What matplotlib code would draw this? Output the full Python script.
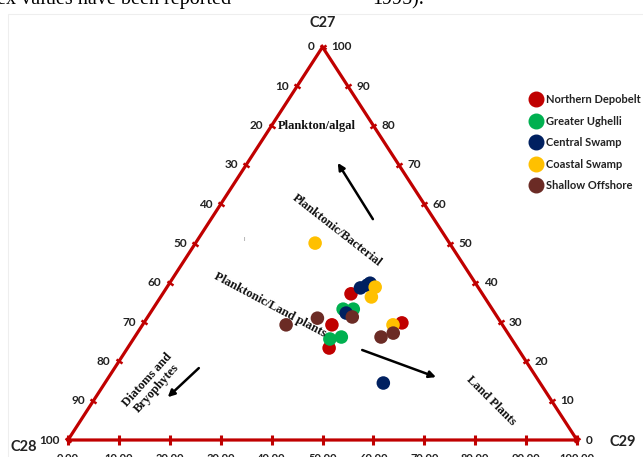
import numpy as np
import matplotlib.pyplot as plt
from matplotlib.markers import MarkerStyle
from matplotlib.transforms import Affine2D
from matplotlib.lines import Line2D
from matplotlib.patches import Rectangle

# sterane compositions (%); C28 is the remainder to 100
groups = ["Northern Depobelt", "Greater Ughelli", "Central Swamp",
          "Coastal Swamp", "Shallow Offshore"]
colors = ["#c00000", "#00b050", "#002060", "#ffc000", "#6b2b25"]

northern_c27 = [37.2, 29.3, 23.4, 29.8]
northern_c29 = [37.0, 37.2, 39.6, 50.7]
ughelli_c27 = [33.3, 33.3, 25.7, 26.2]
ughelli_c29 = [37.4, 39.4, 38.6, 40.6]
central_c27 = [38.7, 39.4, 39.9, 32.3, 14.5]
central_c29 = [38.1, 39.1, 39.4, 38.5, 54.7]
coastal_c27 = [38.9, 36.4, 29.3, 50.1]
coastal_c29 = [40.9, 41.4, 49.2, 23.5]
offshore_c27 = [31.3, 31.0, 29.3, 27.2, 26.2]
offshore_c29 = [40.2, 33.5, 28.2, 50.3, 48.4]

tick_values = [0, 10, 20, 30, 40, 50, 60, 70, 80, 90, 100]

RED = "#c00000"
label_font = dict(family="Lato", weight="bold", color="#222222")
serif_font = dict(family="Liberation Serif", weight="bold", color="#111111")


def to_xy(c27, c29):
    c27 = np.asarray(c27, dtype=float)
    c29 = np.asarray(c29, dtype=float)
    return c29 + c27 / 2.0, c27


fig = plt.figure(figsize=(6.43, 4.57), dpi=100)
ax = fig.add_axes([68 / 643, 17 / 457, 509 / 643, 393 / 457])
ax.set_xlim(0, 100)
ax.set_ylim(0, 100)
ax.axis("off")

# faint frame of the pasted figure
fig.patches.append(Rectangle((8 / 643, -0.01), 0.995, 1 - 14 / 457 + 0.01,
                             transform=fig.transFigure, fill=False,
                             edgecolor="#eeeeee", lw=0.8))

# page text cut at the top
fig.text(-0.004, 1 - 4 / 457, "ex values have been reported",
         family="Liberation Serif", fontsize=14.5, va="baseline")
fig.text(372 / 643, 1 - 4 / 457, "1995).",
         family="Liberation Serif", fontsize=14.5, va="baseline")

# triangle
ax.plot([0, 100, 50, 0], [0, 0, 100, 0], color=RED, lw=2.3,
        solid_joinstyle="miter", clip_on=False, zorder=2)

t = np.array(tick_values, dtype=float)
# bottom (C29)
ax.plot(t, np.zeros_like(t), ls="none", marker="|", ms=7, mew=2.2,
        color=RED, clip_on=False, zorder=2)
# left (C28)
left_mk = MarkerStyle("|", transform=Affine2D().rotate_deg(57))
ax.plot((100 - t) / 2, 100 - t, ls="none", marker=left_mk, ms=5, mew=1.8,
        color=RED, clip_on=False, zorder=2)
# right (C27)
right_mk = MarkerStyle("|", transform=Affine2D().rotate_deg(-57))
ax.plot(100 - t / 2, t, ls="none", marker=right_mk, ms=5, mew=1.8,
        color=RED, clip_on=False, zorder=2)

for v in tick_values:
    ax.annotate(f"{v:.2f}", (v, 0), xytext=(0, -9), textcoords="offset points",
                ha="center", va="top", fontsize=8, annotation_clip=False,
                **label_font)
    ax.annotate(str(v), ((100 - v) / 2, 100 - v), xytext=(-6, 0),
                textcoords="offset points", ha="right", va="center",
                fontsize=8.5, annotation_clip=False, **label_font)
    ax.annotate(str(v), (100 - v / 2, v), xytext=(6, 0),
                textcoords="offset points", ha="left", va="center",
                fontsize=8.5, annotation_clip=False, **label_font)

# vertex names
ax.annotate("C27", (50, 100), xytext=(0, 17), textcoords="offset points",
            ha="center", va="center", fontsize=10.5, annotation_clip=False,
            **label_font)
ax.text(-8.6, -1.8, "C28", ha="center", va="center", fontsize=10.5, **label_font)
ax.text(109.0, -0.5, "C29", ha="center", va="center", fontsize=10.5, **label_font)

# data points
series = [
    (northern_c27, northern_c29),
    (ughelli_c27, ughelli_c29),
    (central_c27, central_c29),
    (coastal_c27, coastal_c29),
    (offshore_c27, offshore_c29),
]
handles = []
for name, color, (c27, c29) in zip(groups, colors, series):
    x, y = to_xy(c27, c29)
    ax.scatter(x, y, s=95, color=color, edgecolors="none", zorder=3,
               clip_on=False)
    handles.append(Line2D([], [], ls="none", marker="o", ms=10.5, color=color,
                          label=name))

leg = ax.legend(handles=handles, loc="upper left",
                bbox_to_anchor=(530 / 643, 1 - 94 / 457),
                bbox_transform=fig.transFigure, frameon=False,
                prop=dict(family="Lato", weight="bold", size=8),
                handlelength=1.0, handletextpad=0.4, labelspacing=0.95,
                borderpad=0, borderaxespad=0)
for txt in leg.get_texts():
    txt.set_color("#222222")

# source regions
ax.text(48.9, 79.9, "Plankton/algal", ha="center", va="center",
        fontsize=9, **serif_font)
ax.text(52.8, 53.2, "Planktonic/Bacterial", ha="center", va="center",
        rotation=-38, rotation_mode="anchor", fontsize=9, **serif_font)
ax.text(39.6, 34.4, "Planktonic/Land plants", ha="center", va="center",
        rotation=-28, rotation_mode="anchor", fontsize=9, **serif_font)
ax.text(83.1, 9.9, "Land Plants", ha="center", va="center",
        rotation=-45, rotation_mode="anchor", fontsize=9, **serif_font)
ax.text(16.5, 14.2, "Diatoms and\nBryophytes", ha="center", va="center",
        rotation=48, rotation_mode="anchor", fontsize=9,
        linespacing=1.1, **serif_font)

arrow_style = dict(arrowstyle="-|>", color="black", lw=1.8,
                   mutation_scale=10, shrinkA=0, shrinkB=0)
ax.annotate("", xy=(53.0, 70.5), xytext=(59.9, 56.2), arrowprops=arrow_style)
ax.annotate("", xy=(72.3, 16.0), xytext=(57.8, 22.9), arrowprops=arrow_style)
ax.annotate("", xy=(19.6, 10.9), xytext=(25.7, 18.3), arrowprops=arrow_style)

# small stray mark in the original
ax.text(34.6, 50.9, "I", ha="center", va="center", fontsize=4,
        color="#777777")

fig.savefig("out.png", dpi=100)
